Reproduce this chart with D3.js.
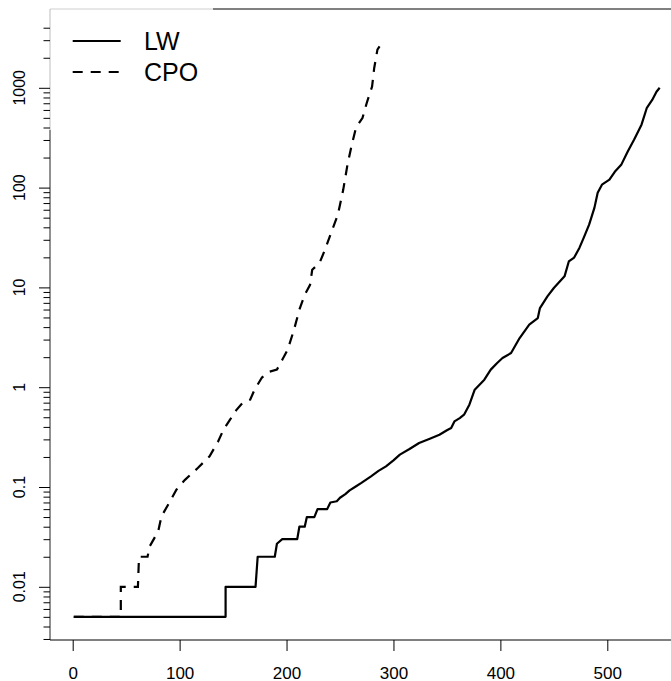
<!DOCTYPE html>
<html>
<head>
<meta charset="utf-8">
<script src="https://cdn.jsdelivr.net/npm/d3@7"></script>
<style>
  body { margin: 0; background: #fff; }
  svg { display: block; font-family: "Liberation Sans", Arial, sans-serif; }
</style>
</head>
<body>
<div id="chart-area"></div>
<script>
// ranks and values
var lwRank = [1, 143, 143, 171, 173, 189, 191, 196, 210, 212, 217, 219, 226, 229, 238, 241, 247, 250, 255, 259,
  264, 270, 279, 286, 293, 300, 306, 315, 324, 334, 343, 350, 354, 357, 362, 366, 371, 376, 385, 391,
  397, 402, 410, 418, 427, 435, 437, 444, 450, 460, 464, 469, 474, 478, 483, 488, 491, 495, 502, 507,
  513, 519, 525, 532, 537, 542, 546, 549];
var lwValue = [0.005, 0.005, 0.01, 0.01, 0.02, 0.02, 0.027, 0.03, 0.03, 0.04, 0.04, 0.05, 0.05, 0.06, 0.06, 0.07, 0.072, 0.078, 0.085, 0.0925,
  0.1, 0.11, 0.128, 0.145, 0.161, 0.185, 0.211, 0.24, 0.276, 0.305, 0.334, 0.37, 0.39, 0.454, 0.49, 0.53, 0.668, 0.944, 1.19, 1.5,
  1.75, 1.96, 2.2, 3.11, 4.23, 4.93, 6.21, 8.13, 9.86, 12.9, 18.2, 19.9, 25, 31.5, 42.5, 63, 89, 107, 120, 144,
  169, 229, 302, 427, 631, 755, 912, 1000];

var cpoRank = [1, 45, 45, 61, 62, 70, 72, 80, 83, 91, 97, 105, 117, 128, 136, 141, 147, 153, 159, 166,
  170, 177, 184, 191, 196, 201, 207, 212, 217, 222, 224, 231, 236, 242, 248, 253, 257, 261, 265, 271,
  275, 280, 282, 285, 287];
var cpoValue = [0.005, 0.005, 0.01, 0.01, 0.02, 0.02, 0.0254, 0.036, 0.0507, 0.0718, 0.094, 0.118, 0.155, 0.203, 0.286, 0.375, 0.47, 0.59, 0.70, 0.75,
  0.94, 1.25, 1.43, 1.5, 1.88, 2.37, 3.77, 5.98, 8.45, 10.6, 15, 17.7, 23.9, 36, 53.5, 95, 170, 268, 400, 498,
  705, 1030, 1580, 2410, 2600];

var seriesNames = ["LW", "CPO"];
var xTicks = [0, 100, 200, 300, 400, 500];
var yTicks = [0.01, 0.1, 1, 10, 100, 1000];
var yTickLabels = ["0.01", "0.1", "1", "10", "100", "1000"];
var yMinorTicks = [0.003, 0.004, 0.005, 0.006, 0.007, 0.008, 0.009,
  0.02, 0.03, 0.04, 0.05, 0.06, 0.07, 0.08, 0.09,
  0.2, 0.3, 0.4, 0.5, 0.6, 0.7, 0.8, 0.9,
  2, 3, 4, 5, 6, 7, 8, 9,
  20, 30, 40, 50, 60, 70, 80, 90,
  200, 300, 400, 500, 600, 700, 800, 900,
  2000, 3000, 4000];

var width = 671, height = 681;
var plotLeft = 50, plotTop = 9, plotBottom = 640;

var svg = d3.select("#chart-area")
    .append("svg")
    .attr("width", width)
    .attr("height", height);

var x = d3.scaleLinear()
    .domain([0, 500])
    .range([72.7, 607.3]);

var y = d3.scaleLog()
    .domain([0.01, 1000])
    .range([586.8, 87.8]);

// frame (right side falls outside the picture)
svg.append("line")
    .attr("x1", plotLeft).attr("x2", 213)
    .attr("y1", plotTop).attr("y2", plotTop)
    .attr("stroke", "#cfcfcf");
svg.append("line")
    .attr("x1", 213).attr("x2", width)
    .attr("y1", plotTop).attr("y2", plotTop)
    .attr("stroke", "#000");
svg.append("line")
    .attr("x1", plotLeft).attr("x2", plotLeft)
    .attr("y1", plotTop).attr("y2", 130)
    .attr("stroke", "#bdbdbd");
svg.append("line")
    .attr("x1", plotLeft).attr("x2", plotLeft)
    .attr("y1", 130).attr("y2", plotBottom)
    .attr("stroke", "#222");
svg.append("line")
    .attr("x1", plotLeft).attr("x2", width)
    .attr("y1", plotBottom).attr("y2", plotBottom)
    .attr("stroke", "#000");

// x axis
var xAxis = svg.append("g")
    .attr("transform", "translate(0," + plotBottom + ")")
    .call(d3.axisBottom(x).tickValues(xTicks).tickSize(11).tickPadding(16).tickFormat(d3.format("d")));
xAxis.select(".domain").remove();
xAxis.selectAll("text")
    .attr("font-size", "17px")
    .attr("font-family", "Liberation Sans, Arial, sans-serif")
    .attr("fill", "#000");

// y axis, minor ticks first
var yMinor = svg.append("g")
    .attr("transform", "translate(" + plotLeft + ",0)")
    .call(d3.axisLeft(y).tickValues(yMinorTicks).tickSize(6.5).tickFormat(""));
yMinor.select(".domain").remove();

var yAxis = svg.append("g")
    .attr("transform", "translate(" + plotLeft + ",0)")
    .call(d3.axisLeft(y).tickValues(yTicks).tickSize(11).tickFormat(""));
yAxis.select(".domain").remove();

// rotated y labels
svg.append("g")
    .selectAll("text")
    .data(yTicks)
    .enter()
    .append("text")
    .attr("transform", function (d) { return "translate(25," + y(d) + ") rotate(-90)"; })
    .attr("text-anchor", "middle")
    .attr("font-size", "16px")
    .text(function (d, i) { return yTickLabels[i]; });

var line = d3.line()
    .x(function (d) { return x(d[0]); })
    .y(function (d) { return y(d[1]); });

var lwData = d3.zip(lwRank, lwValue);
var cpoData = d3.zip(cpoRank, cpoValue);

svg.append("path")
    .datum(cpoData)
    .attr("d", line)
    .attr("fill", "none")
    .attr("stroke", "#000")
    .attr("stroke-width", 2.2)
    .attr("stroke-dasharray", "10,8");

svg.append("path")
    .datum(lwData)
    .attr("d", line)
    .attr("fill", "none")
    .attr("stroke", "#000")
    .attr("stroke-width", 2.2)
    .attr("stroke-linejoin", "round");

// legend
var legend = svg.append("g").attr("class", "legend");
var dashes = ["none", "10,8"];

legend.selectAll("line")
    .data(seriesNames)
    .enter()
    .append("line")
    .attr("x1", 72.7)
    .attr("x2", 120.7)
    .attr("y1", function (d, i) { return 41 + i * 31; })
    .attr("y2", function (d, i) { return 41 + i * 31; })
    .attr("stroke", "#000")
    .attr("stroke-width", 2.2)
    .attr("stroke-dasharray", function (d, i) { return dashes[i]; });

legend.selectAll("text")
    .data(seriesNames)
    .enter()
    .append("text")
    .attr("x", 144)
    .attr("y", function (d, i) { return 50 + i * 31; })
    .attr("font-size", "25px")
    .text(function (d) { return d; });
</script>
</body>
</html>
